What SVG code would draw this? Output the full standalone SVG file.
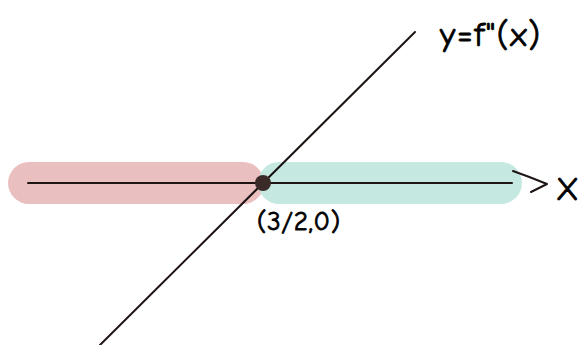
<svg xmlns="http://www.w3.org/2000/svg" width="583" height="345" viewBox="0 0 583 345">
<style>
.band{stroke-linecap:round;stroke-width:42;fill:none}
.ln{stroke:#1e1414;stroke-width:2;fill:none;stroke-linecap:round;stroke-linejoin:round}
.t{font-family:"Comic Neue","Liberation Sans",sans-serif;fill:#000;stroke:#000;stroke-width:0.8}
</style>
<rect width="583" height="345" fill="#fff"/>
<g id="bands">
<line class="band" x1="29" y1="183" x2="243" y2="183" stroke="#e9bfc0"/>
<line class="band" x1="279" y1="183" x2="501" y2="183" stroke="#c2e8df" stroke-opacity="0.95"/>
</g>
<g id="connectors">
<line class="ln" x1="28" y1="183" x2="512" y2="183"/>
<path class="ln" d="M513 171 Q530 177 547 184 L531 192"/>
<line class="ln" x1="100" y1="345" x2="415" y2="32"/>
</g>
<g id="point">
<circle cx="263" cy="183" r="8" fill="#3a2a28"/>
</g>
<g id="labels">
<text class="t" x="556" y="200" font-size="33">X</text>
<text class="t" x="257" y="230" font-size="27" textLength="83">(3/2,0)</text>
<text class="t" x="440" y="46" font-size="34" textLength="100">y=f"(x)</text>
</g>
</svg>
